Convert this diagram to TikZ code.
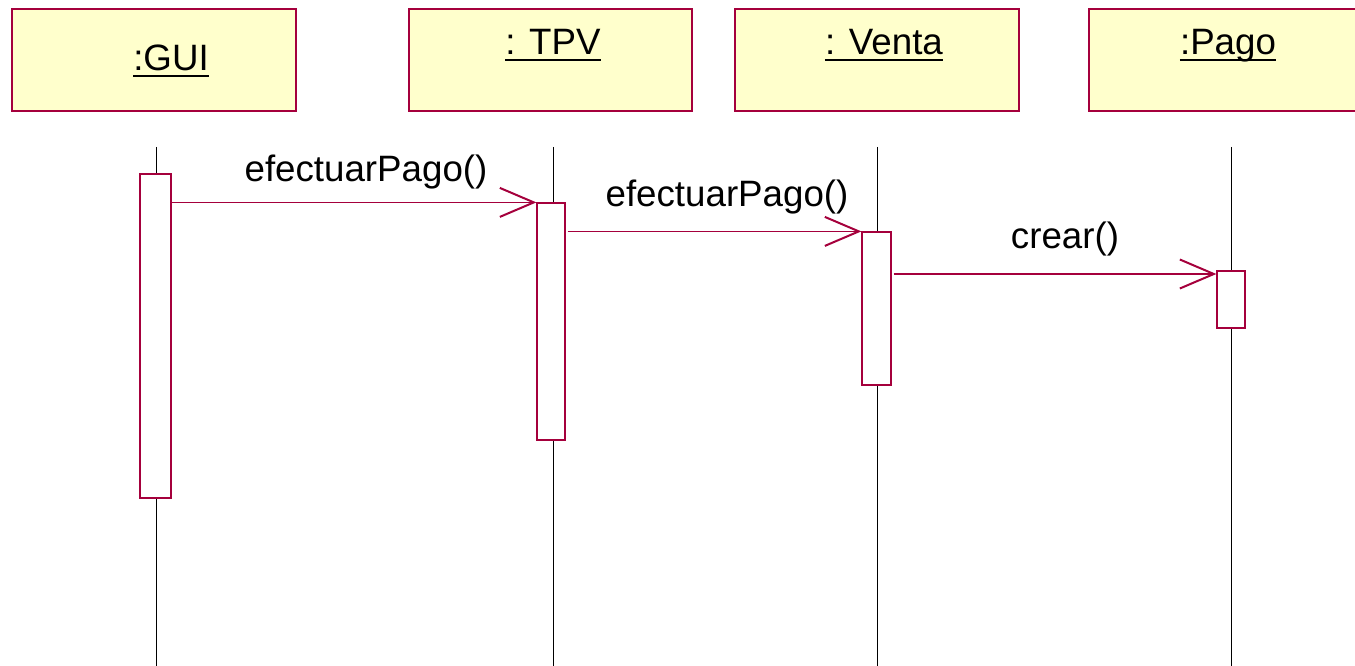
\documentclass[tikz,border=0pt]{standalone}
\usepackage{fontspec}
\setmainfont{Liberation Sans}
\usetikzlibrary{arrows.meta}
\definecolor{umlred}{RGB}{165,0,60}
\definecolor{umlfill}{RGB}{255,255,204}
\begin{document}
\begin{tikzpicture}[x=1pt,y=-1pt,
  objbox/.style={draw=umlred,line width=1.3pt,fill=umlfill,minimum width=284pt,minimum height=102pt,inner sep=0pt},
  lbl/.style={anchor=base,inner sep=0pt,font=\fontsize{36.7}{44}\selectfont},
  ulin/.style={line width=2.8pt,black},
  lifeline/.style={draw=black,line width=1pt},
  actbox/.style={draw=umlred,line width=1.2pt,fill=white,inner sep=0pt},
  msg/.style={draw=umlred,line width=1.3pt,-{Straight Barb[length=34pt,width=29pt,line width=2pt]}}
]
\useasboundingbox (0,0) rectangle (1355,666);
\clip (0,0) rectangle (1355,666);
% object boxes
\node[objbox] (gui) at (154,60) {};
\node[objbox,minimum width=283pt] (tpv) at (550.5,60) {};
\node[objbox] (venta) at (877,60) {};
\node[objbox] (pago) at (1231,60) {};
% labels
\node[lbl] (lgui) at (171,71) {:GUI};
\node[lbl] (ltpv) at (553,55) {: TPV};
\node[lbl] (lventa) at (884,55) {: Venta};
\node[lbl] (lpago) at (1228,55) {:Pago};
\foreach \n in {lgui,ltpv,lventa,lpago}
  \draw[ulin] ([yshift=-5pt]\n.base west) -- ([yshift=-5pt]\n.base east);
% lifelines
\coordinate (gt) at (156,147); \coordinate (gb) at (156,666);
\coordinate (tt) at (553,147); \coordinate (tb) at (553,666);
\coordinate (vt) at (877,147); \coordinate (vb) at (877,666);
\coordinate (pt) at (1231,147); \coordinate (pb) at (1231,666);
\draw[lifeline] (gt) -- (gb);
\draw[lifeline] (tt) -- (tb);
\draw[lifeline] (vt) -- (vb);
\draw[lifeline] (pt) -- (pb);
% activations
\node[actbox,minimum width=31pt,minimum height=324pt] (gact) at (155.5,336) {};
\node[actbox,minimum width=28pt,minimum height=237pt] (tact) at (551,321.5) {};
\node[actbox,minimum width=29pt,minimum height=153pt] (vact) at (876.5,308.5) {};
\node[actbox,minimum width=28pt,minimum height=57pt] (pact) at (1231,299.5) {};
% messages
\coordinate (m3y) at (0,274);
\draw[msg] (gact.east |- tact.north) -- (tact.north west);
\draw[msg] ([xshift=2pt]tact.east |- vact.north) -- (vact.north west);
\draw[msg] ([xshift=2pt]vact.east |- m3y) -- (pact.west |- m3y);
\node[lbl] (t1) at (366,182) {efectuarPago()};
\node[lbl] (t2) at (727,206) {efectuarPago()};
\node[lbl] (t3) at (1065,248) {crear()};
\end{tikzpicture}
\end{document}
